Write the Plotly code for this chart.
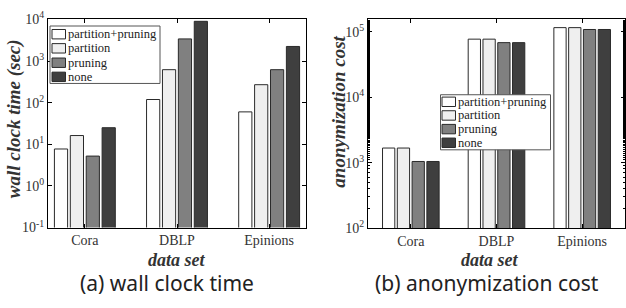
import plotly.graph_objects as go

categories = ["Cora", "DBLP", "Epinions"]
series_names = ["partition+pruning", "partition", "pruning", "none"]
colors = ["#ffffff", "#efefef", "#808080", "#3f3f3f"]

time_pp = [7.7, 119, 60]
time_part = [16.2, 620, 270]
time_prun = [5.2, 3400, 620]
time_none = [25, 9000, 2240]

cost_pp = [1670, 77300, 116000]
cost_part = [1670, 77300, 116000]
cost_prun = [1040, 68400, 108600]
cost_none = [1040, 68400, 108600]

time_ticks = [-1, 0, 1, 2, 3, 4]
cost_ticks = [2, 3, 4, 5]

W, H = 626, 308
SERIF = "Liberation Serif, Times New Roman, Times, serif"
SANS = "Noto Sans, Open Sans, sans-serif"

fig = go.Figure()
time_series = [time_pp, time_part, time_prun, time_none]
cost_series = [cost_pp, cost_part, cost_prun, cost_none]
for name, col, vals in zip(series_names, colors, time_series):
    fig.add_trace(go.Bar(x=categories, y=vals, name=name,
                         marker=dict(color=col, line=dict(color="#2a2a2a", width=1)),
                         xaxis="x", yaxis="y", showlegend=False))
for name, col, vals in zip(series_names, colors, cost_series):
    fig.add_trace(go.Bar(x=categories, y=vals, name=name,
                         marker=dict(color=col, line=dict(color="#2a2a2a", width=1)),
                         xaxis="x2", yaxis="y2", showlegend=False))


def px(v):
    return v / W


def py(v):
    return 1 - v / H


axis_common = dict(showline=True, linecolor="black", linewidth=1, mirror="ticks", ticks="inside",
                   tickcolor="black", ticklen=4, showgrid=False, zeroline=False,
                   tickfont=dict(family=SERIF, size=14, color="#333"))

fig.update_layout(
    width=W, height=H, margin=dict(l=0, r=0, t=0, b=0),
    paper_bgcolor="white", plot_bgcolor="white",
    barmode="group", bargap=0.31, bargroupgap=0.17,
    showlegend=False,
    xaxis=dict(domain=[px(48), px(306)], anchor="y", range=[-0.4, 2.4], **axis_common),
    yaxis=dict(domain=[py(231), py(10)], anchor="x", type="log", range=[-1, 4],
               tickvals=[10 ** t for t in time_ticks],
               ticktext=["10<sup>%d</sup>" % t for t in time_ticks], **axis_common),
    xaxis2=dict(domain=[px(368), px(625)], anchor="y2", range=[-0.5, 2.5], **axis_common),
    yaxis2=dict(domain=[py(231.5), py(10)], anchor="x2", type="log", range=[2, 5.19],
                tickvals=[10 ** t for t in cost_ticks],
                ticktext=["10<sup>%d</sup>" % t for t in cost_ticks],
                minor=dict(ticks="inside", ticklen=2, tickcolor="black", showgrid=False),
                **axis_common),
)

shapes = []
annotations = []


def add_legend(x0, y0, x1, y1, sw_x0, sw_w, row_ys, sw_h=10):
    shapes.append(dict(type="rect", xref="paper", yref="paper", x0=px(x0), x1=px(x1), y0=py(y1), y1=py(y0),
                       fillcolor="white", line=dict(color="#555", width=1), layer="above"))
    for name, col, yc in zip(series_names, colors, row_ys):
        shapes.append(dict(type="rect", xref="paper", yref="paper", x0=px(sw_x0), x1=px(sw_x0 + sw_w),
                           y0=py(yc + sw_h / 2), y1=py(yc - sw_h / 2), fillcolor=col,
                           line=dict(color="#2a2a2a", width=1), layer="above"))
        annotations.append(dict(text=name, x=px(sw_x0 + sw_w + 0.5), y=py(yc), xanchor="left", yanchor="middle",
                                font=dict(family=SERIF, size=12.5, color="#222")))


add_legend(50, 17, 160, 78, 52, 13.5, [25.7, 40.7, 56.0, 71.0])
add_legend(440.5, 90, 550.5, 148.5, 442, 13.5, [97.5, 112, 126.5, 141])

annotations += [
    dict(text="<b><i>wall clock time (sec)</i></b>", x=px(14), y=py(116), textangle=-90,
         xanchor="center", yanchor="middle", font=dict(family=SERIF, size=19, color="#333")),
    dict(text="<b><i>anonymization cost</i></b>", x=px(339), y=py(108), textangle=-90,
         xanchor="center", yanchor="middle", font=dict(family=SERIF, size=19, color="#333")),
    dict(text="<b><i>data set</i></b>", x=px(176), y=py(265), xanchor="center", yanchor="middle",
         font=dict(family=SERIF, size=18, color="#333")),
    dict(text="<b><i>data set</i></b>", x=px(489), y=py(265), xanchor="center", yanchor="middle",
         font=dict(family=SERIF, size=18, color="#333")),
    dict(text="(a) wall clock time", x=px(167), y=py(290), xanchor="center", yanchor="middle",
         font=dict(family=SANS, size=21, color="#222")),
    dict(text="(b) anonymization cost", x=px(487), y=py(290), xanchor="center", yanchor="middle",
         font=dict(family=SANS, size=21, color="#222")),
]
for a in annotations:
    a.update(xref="paper", yref="paper", showarrow=False)
fig.update_layout(annotations=annotations, shapes=shapes)

fig.write_html("out.html", config={"displayModeBar": False},
               post_script="document.body.style.margin='0px';")
